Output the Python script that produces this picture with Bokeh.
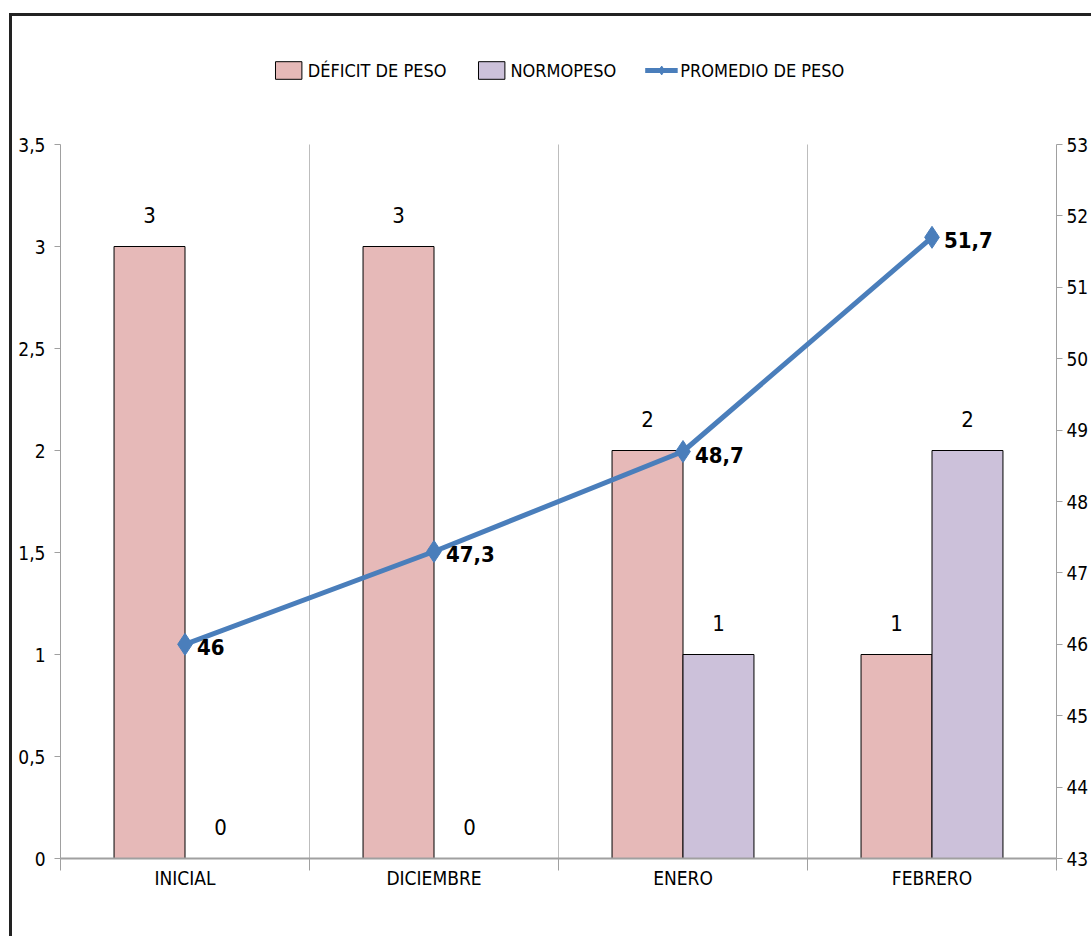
from bokeh.plotting import figure
from bokeh.models import (Range1d, LinearAxis, FixedTicker, Legend, LegendItem,
                          ColumnDataSource)
from bokeh.embed import file_html
from bokeh.resources import INLINE
from bokeh.core.properties import value

# ---- data ----
categories = ["INICIAL", "DICIEMBRE", "ENERO", "FEBRERO"]
deficit = [3, 3, 2, 1]
normopeso = [0, 0, 1, 2]
promedio = [46, 47.3, 48.7, 51.7]
promedio_labels = ["46", "47,3", "48,7", "51,7"]
left_ticks = [0, 0.5, 1, 1.5, 2, 2.5, 3, 3.5]
left_tick_labels = ["0", "0,5", "1", "1,5", "2", "2,5", "3", "3,5"]
right_ticks = list(range(43, 54))
left_max, right_min, right_max = 3.5, 43, 53

FONT = "DejaVu Sans Condensed"
FS = "19px"

n = len(categories)
xc = [i + 0.5 for i in range(n)]
bounds_x = list(range(1, n))
bw = 0.285
x_def = [x - bw / 2 for x in xc]
x_norm = [x + bw / 2 for x in xc]

# frame is taller than the axes so the legend fits in the top band
FRAME_H = 808
AXIS_H = 714
ext = FRAME_H / AXIS_H

p = figure(frame_width=996, frame_height=FRAME_H, output_backend="svg",
           toolbar_location=None,
           x_range=Range1d(0, n), y_range=Range1d(0, left_max * ext),
           min_border_left=48, min_border_top=34, min_border_right=10,
           min_border_bottom=78)
p.styles = {"border-top": "3px solid #222", "border-left": "3px solid #222",
            "margin-left": "9px", "margin-top": "13px"}
p.outline_line_color = None
p.background_fill_color = "white"
p.border_fill_color = "white"
p.extra_y_ranges = {"w": Range1d(right_min, right_min + (right_max - right_min) * ext)}

# grid (vertical separators between categories)
p.ygrid.grid_line_color = None
p.xgrid.grid_line_color = None
p.segment(x0=bounds_x, y0=[0] * len(bounds_x), x1=bounds_x,
          y1=[left_max] * len(bounds_x), line_color="#bdbdbd", line_width=1)

# x axis
xa = p.xaxis[0]
xa.ticker = FixedTicker(ticks=xc, minor_ticks=list(range(0, n + 1)))
xa.major_label_overrides = {x: c for x, c in zip(xc, categories)}
xa.major_tick_line_color = None
xa.minor_tick_line_color = "#a0a0a0"
xa.minor_tick_out = 12
xa.minor_tick_in = 0
xa.axis_line_color = "#a0a0a0"
xa.axis_line_width = 2
xa.major_label_text_font = FONT
xa.major_label_text_font_size = FS
xa.major_label_text_color = "black"
xa.major_label_standoff = -4

# left axis
ya = p.yaxis[0]
ya.ticker = FixedTicker(ticks=left_ticks)
ya.bounds = (0, left_max)
ya.major_label_overrides = {t: l for t, l in zip(left_ticks, left_tick_labels)}
ya.minor_tick_line_color = None
ya.major_tick_out = 6
ya.major_tick_in = 0
ya.major_tick_line_color = "#a0a0a0"
ya.axis_line_color = "#a0a0a0"
ya.major_label_text_font = FONT
ya.major_label_text_font_size = FS
ya.major_label_text_color = "black"
ya.major_label_standoff = 9

# right axis
ra = LinearAxis(y_range_name="w", ticker=FixedTicker(ticks=right_ticks),
                bounds=(right_min, right_max))
ra.minor_tick_line_color = None
ra.major_tick_out = 6
ra.major_tick_in = 0
ra.major_tick_line_color = "#a0a0a0"
ra.axis_line_color = "#a0a0a0"
ra.major_label_text_font = FONT
ra.major_label_text_font_size = FS
ra.major_label_text_color = "black"
ra.major_label_standoff = 4
p.add_layout(ra, "right")

# bars
src = ColumnDataSource(dict(xd=x_def, xn=x_norm, d=deficit, n=normopeso,
                            ds=[str(v) for v in deficit],
                            ns=[str(v) for v in normopeso],
                            xc=xc, w=promedio, wl=promedio_labels))
r_def = p.vbar(x="xd", top="d", width=bw, bottom=0, source=src,
               fill_color="#E6B9B8", line_color="black", line_width=1)
r_norm = p.vbar(x="xn", top="n", width=bw, bottom=0, source=src,
                fill_color="#CCC1DA", line_color="black", line_width=1)

# bar labels
p.text(x="xd", y="d", text="ds", source=src, y_offset=-32,
       text_align="center", text_baseline="middle",
       text_font=value(FONT), text_font_size="22px", text_color="black")
p.text(x="xn", y="n", text="ns", source=src, y_offset=-32,
       text_align="center", text_baseline="middle",
       text_font=value(FONT), text_font_size="22px", text_color="black")

# line
r_line = p.line(x="xc", y="w", source=src, y_range_name="w",
                line_color="#4A7EBB", line_width=5)
r_mark = p.scatter(x="xc", y="w", source=src, y_range_name="w",
                   marker="diamond", size=22, fill_color="#4A7EBB",
                   line_color="#4A7EBB")
p.text(x="xc", y="w", text="wl", source=src, y_range_name="w",
       x_offset=12, y_offset=3, text_align="left", text_baseline="middle",
       text_font=value(FONT), text_font_size="22px", text_font_style="bold",
       text_color="black")

legend = Legend(items=[
    LegendItem(label="DÉFICIT DE PESO", renderers=[r_def]),
    LegendItem(label="NORMOPESO", renderers=[r_norm]),
    LegendItem(label="PROMEDIO DE PESO", renderers=[r_line, r_mark]),
], orientation="horizontal", location="top_center")
legend.label_text_font = FONT
legend.label_text_font_size = "18px"
legend.label_text_color = "black"
legend.glyph_width = 33
legend.glyph_height = 22
legend.label_standoff = 3
legend.spacing = 28
legend.padding = 4
legend.margin = 9
legend.border_line_color = None
legend.background_fill_alpha = 0
p.add_layout(legend, "center")

open("out.html", "w").write(file_html(p, INLINE))
